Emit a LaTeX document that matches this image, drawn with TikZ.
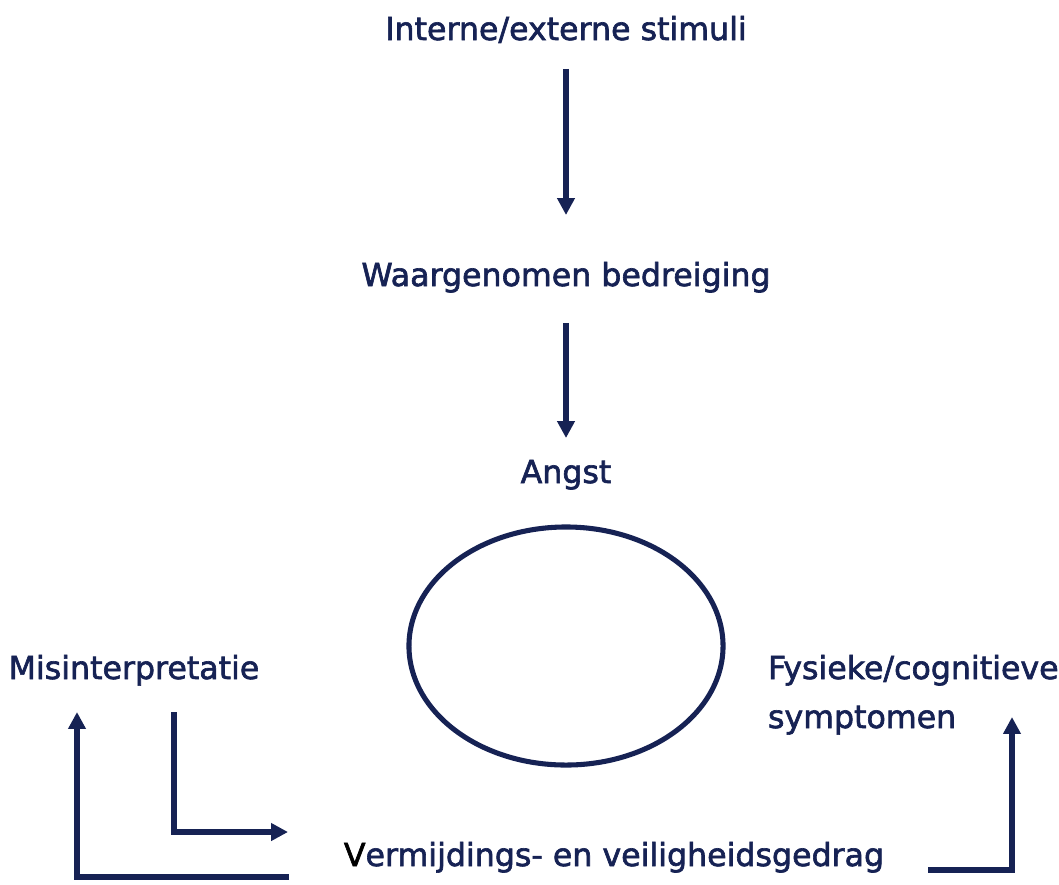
\documentclass[tikz,border=0pt]{standalone}
\usepackage{fontspec}
\setmainfont{DejaVu Sans}
\newfontfamily\lblfont{DejaVu Sans}[FakeBold=2]
\usetikzlibrary{arrows.meta,positioning,shapes.geometric}
\definecolor{navy}{RGB}{22,34,84}

\begin{document}
\begin{tikzpicture}
[x=0.025cm,y=-0.025cm,
 every node/.style={text=navy,inner sep=0mm,outer sep=0mm,font=\lblfont\fontsize{22.5}{27}\selectfont},
 lbl/.style={anchor=base,text height=17pt,text depth=5pt},
 conn/.style={draw=navy,line width=3.6pt,-{Triangle[length=12pt,width=12pt]}},
 ring/.style={draw=navy,line width=3.6pt,ellipse}]
\useasboundingbox (0,0) rectangle (1059,884);
\node[lbl]            (stim)    at (566,40)  {Interne/externe stimuli};
\node[lbl]            (threat)  at (566,286) {Waargenomen bedreiging};
\node[lbl]            (angst)   at (566,483) {Angst};
\node[ring,minimum width=7.85cm,minimum height=5.95cm] (angstloop) at (566,646) {};
\node[lbl]            (misint)  at (134,679) {Misinterpretatie};
\node[lbl,anchor=base west] (symp1) at (768,679) {Fysieke/cognitieve};
\node[lbl,anchor=base west] (symp2) at (768,728) {symptomen};
\node[lbl]            (vermijd) at (614,866) {{\color{black}V}ermijdings- en veiligheidsgedrag};
\coordinate (outS) at (289,877);
\coordinate (outB) at (77,877);
\coordinate (inB)  at (174,832);
\coordinate (inE)  at (288,832);
\coordinate (rtS)  at (928,870);
\coordinate (rtB)  at (1012,870);
\draw[conn,shorten <=15.6pt,shorten >=33.5pt] (stim) -- (threat);
\draw[conn,shorten <=21.3pt,shorten >=15pt]   (threat) -- (angst);
\draw[conn,shorten >=18.5pt] (outS) -- (outB) -- (outB |- misint.south);
\draw[conn,shorten <=18.5pt] (inB |- misint.south) -- (inB) -- (inE);
\draw[conn,shorten >=9.2pt]  (rtS) -- (rtB) -- (rtB |- symp2.north);
\end{tikzpicture}
\end{document}
